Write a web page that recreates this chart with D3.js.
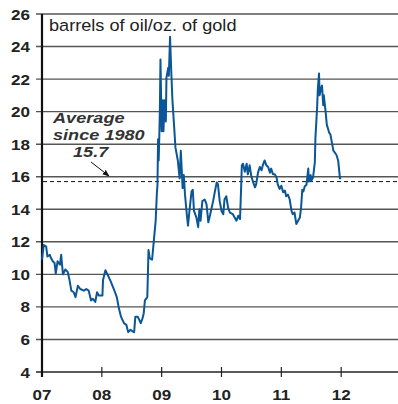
<!DOCTYPE html>
<html>
<head>
<meta charset="utf-8">
<script src="https://cdn.jsdelivr.net/npm/d3@7"></script>
<style>
body { margin: 0; background: #fff; }
svg { display: block; font-family: "Liberation Sans", Arial, sans-serif; }
</style>
</head>
<body>
<svg width="398" height="404"></svg>
<script>
// oil/gold ratio, time as fractional year
var dates = [2007.00, 2007.03, 2007.07, 2007.09, 2007.13, 2007.15, 2007.18, 2007.21, 2007.23, 2007.26,
  2007.30, 2007.32, 2007.35, 2007.39, 2007.43, 2007.46, 2007.49, 2007.53, 2007.56, 2007.60,
  2007.64, 2007.70, 2007.74, 2007.78, 2007.82, 2007.85, 2007.89, 2007.92, 2007.95, 2008.01,
  2008.02, 2008.06, 2008.10, 2008.15, 2008.20, 2008.25, 2008.28, 2008.32, 2008.37, 2008.41,
  2008.44, 2008.48, 2008.51, 2008.54, 2008.56, 2008.60, 2008.65, 2008.68, 2008.70, 2008.72,
  2008.76, 2008.78, 2008.80, 2008.84, 2008.87, 2008.90, 2008.92, 2008.93, 2008.94, 2008.95,
  2008.96, 2008.97, 2008.98, 2009.00, 2009.02, 2009.03, 2009.05, 2009.07, 2009.08, 2009.11,
  2009.12, 2009.14, 2009.16, 2009.18, 2009.21, 2009.23, 2009.27, 2009.30, 2009.32, 2009.35,
  2009.37, 2009.39, 2009.42, 2009.44, 2009.47, 2009.50, 2009.52, 2009.54, 2009.58, 2009.61,
  2009.63, 2009.65, 2009.68, 2009.72, 2009.75, 2009.78, 2009.80, 2009.83, 2009.86, 2009.89,
  2009.92, 2009.94, 2009.97, 2010.00, 2010.03, 2010.05, 2010.08, 2010.11, 2010.14, 2010.19,
  2010.22, 2010.25, 2010.28, 2010.31, 2010.33, 2010.34, 2010.36, 2010.39, 2010.42, 2010.44,
  2010.47, 2010.50, 2010.53, 2010.56, 2010.58, 2010.61, 2010.64, 2010.67, 2010.69, 2010.72,
  2010.75, 2010.78, 2010.81, 2010.83, 2010.86, 2010.89, 2010.92, 2010.94, 2010.97, 2011.00,
  2011.03, 2011.06, 2011.08, 2011.11, 2011.14, 2011.17, 2011.19, 2011.22, 2011.25, 2011.28,
  2011.31, 2011.33, 2011.35, 2011.37, 2011.39, 2011.42, 2011.45, 2011.46, 2011.49, 2011.50,
  2011.53, 2011.56, 2011.57, 2011.60, 2011.61, 2011.63, 2011.64, 2011.66, 2011.68, 2011.70,
  2011.71, 2011.74, 2011.76, 2011.80, 2011.82, 2011.85, 2011.87, 2011.92, 2011.95, 2011.98,
  2012.00];
var ratio = [10.9, 11.8, 11.7, 11.1, 11.2, 11.0, 10.8, 10.7, 10.05, 10.8,
  10.6, 11.2, 10.0, 10.3, 10.15, 9.65, 9.0, 8.9, 8.6, 9.3,
  9.1, 9.0, 9.1, 9.0, 8.4, 8.5, 8.3, 8.9, 8.7, 8.7,
  9.65, 10.25, 9.95, 9.55, 9.1, 8.6, 8.0, 7.4, 7.0, 6.9,
  6.45, 6.6, 6.5, 6.45, 7.4, 7.4, 7.0, 7.3, 7.6, 8.4,
  8.6, 11.5, 11.0, 10.9, 12.1, 13.3, 15.0, 15.5, 18.3, 17.0,
  18.4, 20.1, 23.2, 18.8, 20.7, 18.8, 20.7, 19.4, 22.1, 22.7,
  22.2, 24.6, 22.5, 20.7, 19.0, 17.8, 17.0, 15.9, 17.6, 15.3,
  16.1, 14.9, 13.7, 13.0, 14.1, 15.1, 15.2, 13.9, 13.5, 12.9,
  14.0, 13.3, 14.5, 14.6, 14.3, 13.2, 13.5, 14.0, 14.5, 15.1,
  15.65, 15.55, 14.5, 13.9, 13.7, 14.6, 14.8, 14.1, 13.8, 13.7,
  13.5, 13.3, 13.6, 13.4, 15.55, 16.7, 16.8, 16.3, 16.8, 16.15,
  16.7, 16.0, 15.65, 15.35, 15.55, 16.25, 16.6, 16.4, 16.7, 17.0,
  16.7, 16.6, 16.25, 16.5, 16.15, 16.15, 15.95, 15.55, 15.25, 15.45,
  15.05, 15.15, 14.8, 14.9, 14.6, 13.9, 13.7, 13.8, 13.1, 13.3,
  13.5, 14.1, 15.2, 15.1, 15.4, 15.5, 16.5, 15.7, 16.1, 15.75,
  15.95, 16.9, 18.4, 20.4, 21.4, 22.35, 21.0, 21.4, 21.6, 20.4,
  21.0, 20.0, 19.2, 18.7, 18.6, 18.0, 17.6, 17.35, 17.0, 15.9,
  15.9];
var average = 15.7;
var yTicks = [4, 6, 8, 10, 12, 14, 16, 18, 20, 22, 24, 26];
var xTicks = [2007, 2008, 2009, 2010, 2011, 2012];
var xLabels = ["07", "08", "09", "10", "11", "12"];

var svg = d3.select("svg");

var x = d3.scaleLinear().domain([2007, 2013]).range([42, 401]);
var y = d3.scaleLinear().domain([4, 26]).range([372, 14]);

// text in the original is a bit wider than Arial
function place(px, py, sx) { return "translate(" + px + "," + py + ") scale(" + (sx || 1.1) + ",1)"; }

// gridlines
svg.selectAll("line.grid")
  .data(yTicks.slice(1))
  .enter().append("line")
  .attr("class", "grid")
  .attr("x1", 36).attr("x2", 398)
  .attr("y1", function(d) { return y(d); })
  .attr("y2", function(d) { return y(d); })
  .attr("stroke", "#555").attr("stroke-width", 1.4);

// y labels
svg.selectAll("text.ylab")
  .data(yTicks)
  .enter().append("text")
  .attr("class", "ylab")
  .attr("transform", function(d) { return place(30, y(d) + 5.5); })
  .attr("text-anchor", "end")
  .attr("font-size", 15.5).attr("font-weight", "bold").attr("fill", "#222")
  .text(function(d) { return d; });

// x axis
svg.append("line")
  .attr("x1", 36).attr("x2", 398)
  .attr("y1", y(4)).attr("y2", y(4))
  .attr("stroke", "#222").attr("stroke-width", 1.5);

svg.selectAll("line.xtick")
  .data(xTicks)
  .enter().append("line")
  .attr("class", "xtick")
  .attr("x1", function(d) { return x(d); })
  .attr("x2", function(d) { return x(d); })
  .attr("y1", y(4) - 5).attr("y2", y(4) + 5)
  .attr("stroke", "#222").attr("stroke-width", 1.2);

svg.selectAll("text.xlab")
  .data(xTicks)
  .enter().append("text")
  .attr("class", "xlab")
  .attr("transform", function(d) { return place(x(d), 400); })
  .attr("text-anchor", "middle")
  .attr("font-size", 15.5).attr("font-weight", "bold").attr("fill", "#222")
  .text(function(d, i) { return xLabels[i]; });

// y axis
svg.append("line")
  .attr("x1", 42).attr("x2", 42)
  .attr("y1", y(26)).attr("y2", y(4) + 5)
  .attr("stroke", "#111").attr("stroke-width", 2.2);

// average line
svg.append("line")
  .attr("x1", 43).attr("x2", 398)
  .attr("y1", y(average)).attr("y2", y(average))
  .attr("stroke", "#111").attr("stroke-width", 1)
  .attr("stroke-dasharray", "4,3");

// series
var pts = dates.map(function(d, i) { return [d, ratio[i]]; });
var line = d3.line()
  .x(function(d) { return x(d[0]); })
  .y(function(d) { return y(d[1]); });

svg.append("path")
  .datum(pts)
  .attr("d", line)
  .attr("fill", "none")
  .attr("stroke", "#0b5696")
  .attr("stroke-width", 2)
  .attr("stroke-linejoin", "round");

// title
svg.append("text")
  .attr("transform", place(49, 31))
  .attr("font-size", 16.5).attr("fill", "#222")
  .text("barrels of oil/oz. of gold");

// annotation
var note = svg.append("g")
  .attr("font-size", 15.5).attr("font-weight", "bold").attr("font-style", "italic")
  .attr("fill", "#333");
note.append("text").attr("transform", place(53, 123, 1.17)).text("Average");
note.append("text").attr("transform", place(53, 140, 1.17)).text("since 1980");
note.append("text").attr("transform", place(73, 157, 1.17)).text("15.7");

svg.append("defs").append("marker")
  .attr("id", "arr")
  .attr("viewBox", "0 0 10 10")
  .attr("refX", 9).attr("refY", 5)
  .attr("markerWidth", 7).attr("markerHeight", 7)
  .attr("orient", "auto")
  .append("path")
  .attr("d", "M0,1L10,5L0,9z")
  .attr("fill", "#111");

svg.append("line")
  .attr("x1", 91).attr("y1", 162)
  .attr("x2", 109).attr("y2", 176)
  .attr("stroke", "#111").attr("stroke-width", 1)
  .attr("marker-end", "url(#arr)");
</script>
</body>
</html>
